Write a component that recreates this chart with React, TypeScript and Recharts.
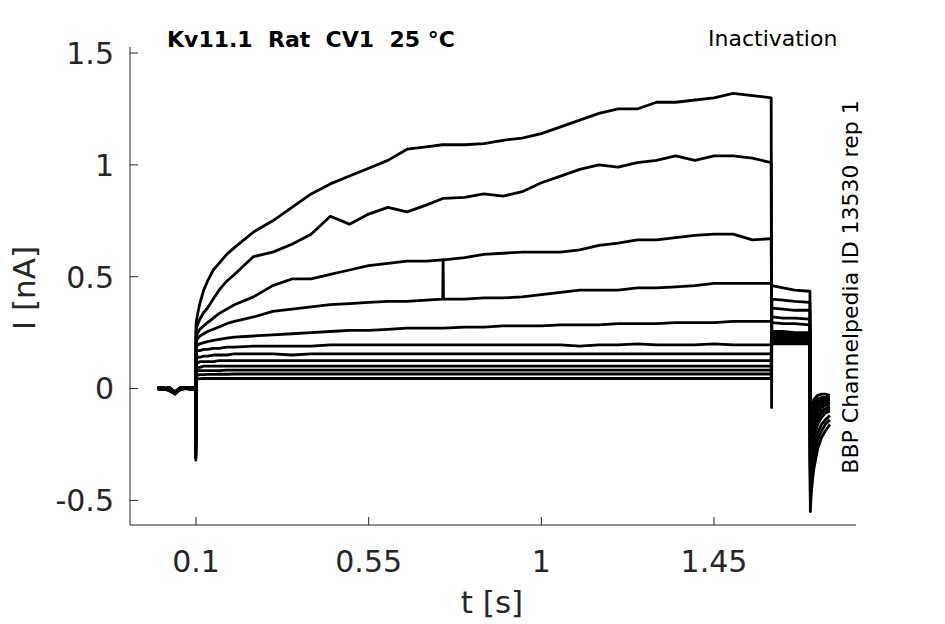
import { LineChart, Line, XAxis, YAxis } from "recharts";

// sweep time base (s), shared by all traces
const T = [
  0, 0.015, 0.03, 0.045, 0.06, 0.075, 0.09, 0.099,
  0.0995, 0.1, 0.101, 0.105, 0.11, 0.12, 0.13, 0.145, 0.16, 0.18, 0.2,
  0.25, 0.3, 0.35, 0.4, 0.45, 0.5, 0.55, 0.6, 0.65, 0.7,
  0.743, 0.744, 0.745, 0.8, 0.85, 0.9, 0.95, 1.0,
  1.05, 1.1, 1.15, 1.2, 1.25, 1.3, 1.35, 1.4, 1.45, 1.5, 1.55, 1.599,
  1.6, 1.601, 1.63, 1.66, 1.699,
  1.7, 1.701, 1.703, 1.706, 1.71, 1.72, 1.73, 1.74, 1.752,
];

// currents (nA), one array per sweep
const I1 = [
  0.005, 0, -0.01, -0.025, 0, 0.005, -0.005, 0,
  -0.22, 0.28, 0.3, 0.34, 0.38, 0.44, 0.48, 0.53, 0.56, 0.6, 0.63,
  0.7, 0.75, 0.81, 0.87, 0.915, 0.95, 0.985, 1.02, 1.07, 1.08,
  1.09, 1.09, 1.09, 1.09, 1.095, 1.11, 1.12, 1.14,
  1.17, 1.2, 1.23, 1.25, 1.25, 1.28, 1.28, 1.29, 1.3, 1.32, 1.31, 1.3,
  -0.085, 0.4, 0.395, 0.39, 0.385,
  0.385, -0.55, -0.48, -0.42, -0.36, -0.27, -0.22, -0.19, -0.16,
];
const I2 = [
  0, 0.005, -0.005, -0.02, 0.005, 0, 0, 0.005,
  -0.24, 0.25, 0.27, 0.29, 0.31, 0.34, 0.36, 0.4, 0.44, 0.48, 0.51,
  0.59, 0.61, 0.645, 0.69, 0.77, 0.735, 0.78, 0.81, 0.79, 0.82,
  0.85, 0.85, 0.85, 0.855, 0.87, 0.86, 0.88, 0.92,
  0.95, 0.98, 1.0, 0.99, 1.01, 1.02, 1.04, 1.02, 1.04, 1.04, 1.03, 1.01,
  0.37, 0.36, 0.355, 0.35, 0.35,
  0.35, -0.5, -0.44, -0.37, -0.31, -0.23, -0.19, -0.16, -0.14,
];
const I3 = [
  0, -0.005, 0.005, -0.015, -0.005, 0.005, 0.005, -0.005,
  -0.25, 0.22, 0.24, 0.25, 0.265, 0.28, 0.295, 0.315, 0.335, 0.355, 0.375,
  0.41, 0.46, 0.49, 0.49, 0.51, 0.53, 0.55, 0.56, 0.57, 0.57,
  0.575, 0.575, 0.575, 0.585, 0.6, 0.605, 0.61, 0.61,
  0.61, 0.62, 0.64, 0.65, 0.665, 0.665, 0.675, 0.685, 0.69, 0.69, 0.665, 0.67,
  0.33, 0.32, 0.315, 0.315, 0.31,
  0.31, -0.47, -0.4, -0.33, -0.26, -0.2, -0.16, -0.14, -0.12,
];
const I4 = [
  0.005, 0, -0.01, -0.02, 0, 0, -0.005, 0,
  -0.26, 0.2, 0.215, 0.225, 0.235, 0.245, 0.255, 0.265, 0.275, 0.29, 0.3,
  0.32, 0.345, 0.355, 0.365, 0.375, 0.38, 0.385, 0.39, 0.39, 0.395,
  0.4, 0.575, 0.4, 0.4, 0.405, 0.405, 0.41, 0.42,
  0.43, 0.44, 0.44, 0.44, 0.45, 0.45, 0.455, 0.46, 0.47, 0.47, 0.47, 0.47,
  0.465, 0.46, 0.45, 0.44, 0.435,
  0.435, -0.45, -0.37, -0.29, -0.22, -0.16, -0.13, -0.11, -0.1,
];
const I5 = [
  0, 0.005, -0.005, -0.015, 0.005, 0, 0, 0,
  -0.27, 0.18, 0.19, 0.195, 0.2, 0.205, 0.21, 0.215, 0.22, 0.225, 0.23,
  0.235, 0.24, 0.245, 0.25, 0.255, 0.26, 0.26, 0.265, 0.27, 0.27,
  0.27, 0.27, 0.27, 0.275, 0.275, 0.28, 0.28, 0.28,
  0.285, 0.285, 0.285, 0.29, 0.29, 0.29, 0.295, 0.295, 0.295, 0.3, 0.3, 0.3,
  0.3, 0.295, 0.29, 0.29, 0.285,
  0.285, -0.43, -0.33, -0.25, -0.19, -0.14, -0.11, -0.1, -0.09,
];
const I6 = [
  -0.005, 0, 0.005, -0.02, 0, 0.005, 0, -0.005,
  -0.28, 0.16, 0.165, 0.17, 0.17, 0.175, 0.175, 0.18, 0.18, 0.185, 0.185,
  0.19, 0.19, 0.19, 0.19, 0.195, 0.195, 0.195, 0.195, 0.195, 0.195,
  0.195, 0.195, 0.195, 0.195, 0.195, 0.195, 0.195, 0.195,
  0.195, 0.19, 0.195, 0.195, 0.2, 0.195, 0.195, 0.195, 0.2, 0.195, 0.195, 0.195,
  0.25, 0.255, 0.255, 0.25, 0.25,
  0.25, -0.41, -0.3, -0.22, -0.16, -0.12, -0.1, -0.09, -0.08,
];
const I7 = [
  0.005, -0.005, 0, -0.015, 0.005, 0, 0.005, 0,
  -0.29, 0.13, 0.135, 0.14, 0.14, 0.145, 0.145, 0.15, 0.15, 0.15, 0.155,
  0.155, 0.155, 0.15, 0.155, 0.155, 0.155, 0.155, 0.155, 0.155, 0.155,
  0.155, 0.155, 0.155, 0.155, 0.155, 0.155, 0.155, 0.155,
  0.155, 0.155, 0.155, 0.155, 0.155, 0.155, 0.155, 0.155, 0.155, 0.155, 0.155, 0.155,
  0.24, 0.245, 0.245, 0.24, 0.24,
  0.24, -0.39, -0.27, -0.19, -0.14, -0.1, -0.085, -0.075, -0.07,
];
const I8 = [
  0, 0, -0.005, -0.02, 0, 0.005, -0.005, 0.005,
  -0.3, 0.11, 0.115, 0.115, 0.12, 0.12, 0.12, 0.12, 0.125, 0.125, 0.125,
  0.125, 0.125, 0.125, 0.125, 0.125, 0.125, 0.125, 0.125, 0.125, 0.125,
  0.125, 0.125, 0.125, 0.125, 0.125, 0.125, 0.125, 0.125,
  0.125, 0.125, 0.125, 0.125, 0.125, 0.125, 0.125, 0.125, 0.125, 0.125, 0.125, 0.125,
  0.235, 0.235, 0.235, 0.23, 0.23,
  0.23, -0.37, -0.24, -0.17, -0.12, -0.085, -0.07, -0.065, -0.06,
];
const I9 = [
  0.005, 0, 0, -0.015, -0.005, 0, 0, 0,
  -0.3, 0.09, 0.095, 0.095, 0.095, 0.1, 0.1, 0.1, 0.1, 0.1, 0.1,
  0.1, 0.1, 0.1, 0.1, 0.1, 0.1, 0.1, 0.1, 0.1, 0.1,
  0.1, 0.1, 0.1, 0.1, 0.1, 0.1, 0.1, 0.1,
  0.1, 0.1, 0.1, 0.1, 0.1, 0.1, 0.1, 0.1, 0.1, 0.1, 0.1, 0.1,
  0.225, 0.225, 0.225, 0.225, 0.225,
  0.225, -0.36, -0.22, -0.15, -0.1, -0.07, -0.06, -0.055, -0.05,
];
const I10 = [
  0, 0.005, -0.005, -0.02, 0, 0, 0.005, 0,
  -0.31, 0.075, 0.078, 0.08, 0.08, 0.08, 0.08, 0.08, 0.08, 0.082, 0.082,
  0.082, 0.082, 0.082, 0.082, 0.082, 0.082, 0.082, 0.082, 0.082, 0.082,
  0.082, 0.082, 0.082, 0.082, 0.082, 0.082, 0.082, 0.082,
  0.082, 0.082, 0.082, 0.082, 0.082, 0.082, 0.082, 0.082, 0.082, 0.082, 0.082, 0.082,
  0.215, 0.215, 0.215, 0.215, 0.215,
  0.215, -0.35, -0.2, -0.13, -0.085, -0.06, -0.05, -0.045, -0.045,
];
const I11 = [
  -0.005, 0, 0.005, -0.015, 0, 0.005, 0, 0,
  -0.31, 0.055, 0.06, 0.06, 0.062, 0.062, 0.063, 0.063, 0.064, 0.064, 0.065,
  0.065, 0.065, 0.065, 0.065, 0.065, 0.065, 0.065, 0.065, 0.065, 0.065,
  0.065, 0.065, 0.065, 0.065, 0.065, 0.065, 0.065, 0.065,
  0.065, 0.065, 0.065, 0.065, 0.065, 0.065, 0.065, 0.065, 0.065, 0.065, 0.065, 0.065,
  0.21, 0.21, 0.21, 0.21, 0.21,
  0.21, -0.34, -0.18, -0.11, -0.07, -0.045, -0.04, -0.04, -0.04,
];
const I12 = [
  0, -0.005, 0, -0.025, 0, 0, -0.005, 0,
  -0.32, 0.04, 0.042, 0.043, 0.044, 0.045, 0.045, 0.045, 0.045, 0.045, 0.045,
  0.045, 0.045, 0.045, 0.045, 0.045, 0.045, 0.045, 0.045, 0.045, 0.045,
  0.045, 0.045, 0.045, 0.045, 0.045, 0.045, 0.045, 0.045,
  0.045, 0.045, 0.045, 0.045, 0.045, 0.045, 0.045, 0.045, 0.045, 0.045, 0.045, 0.045,
  0.2, 0.2, 0.2, 0.2, 0.2,
  0.2, -0.32, -0.15, -0.09, -0.05, -0.03, -0.025, -0.025, -0.03,
];

const SWEEPS = [I1, I2, I3, I4, I5, I6, I7, I8, I9, I10, I11, I12];

const X_TICKS = [0.1, 0.55, 1, 1.45];
const Y_TICKS = [-0.5, 0, 0.5, 1, 1.5];

const W = 945;
const H = 624;
const PLOT_LEFT = 130;
const PLOT_RIGHT = 856;
const PLOT_TOP = 47;
const PLOT_BOTTOM = 525;
const AXIS = "#262626";
const FONT = "DejaVu Sans";

const rows = T.map((t, i) => {
  const r: Record<string, number> = { t };
  SWEEPS.forEach((s, k) => {
    r["s" + k] = s[i];
  });
  return r;
});

function YTick(props: any) {
  const { y, payload } = props;
  return (
    <g>
      <line x1={PLOT_LEFT} x2={PLOT_LEFT + 8} y1={y} y2={y} stroke={AXIS} strokeWidth={1} />
      <text x={PLOT_LEFT - 16} y={y} dy="0.36em" textAnchor="end" fontSize={30} fontFamily={FONT} fill={AXIS}>
        {payload.value}
      </text>
    </g>
  );
}

function XTick(props: any) {
  const { x, payload } = props;
  return (
    <g>
      <line x1={x} x2={x} y1={PLOT_BOTTOM} y2={PLOT_BOTTOM - 8} stroke={AXIS} strokeWidth={1} />
      <text x={x} y={572} textAnchor="middle" fontSize={30} fontFamily={FONT} fill={AXIS}>
        {payload.value}
      </text>
    </g>
  );
}

export default function App() {
  return (
    <div style={{ position: "absolute", left: 0, top: 0, width: W, height: H, background: "#fff" }}>
      <LineChart
        width={W}
        height={H}
        data={rows}
        margin={{ top: PLOT_TOP, right: W - PLOT_RIGHT, left: 0, bottom: 0 }}
      >
        <XAxis
          dataKey="t"
          type="number"
          domain={[-0.072, 1.82]}
          ticks={X_TICKS}
          interval={0}
          height={H - PLOT_BOTTOM}
          axisLine={{ stroke: AXIS, strokeWidth: 1 }}
          tickLine={false}
          tick={<XTick />}
          allowDataOverflow
        />
        <YAxis
          type="number"
          domain={[-0.61, 1.527]}
          ticks={Y_TICKS}
          interval={0}
          width={PLOT_LEFT}
          axisLine={{ stroke: AXIS, strokeWidth: 1 }}
          tickLine={false}
          tick={<YTick />}
          allowDataOverflow
        />
        {SWEEPS.map((_, k) => (
          <Line
            key={k}
            dataKey={"s" + k}
            type="linear"
            stroke="#000"
            strokeWidth={2.8}
            strokeLinejoin="round"
            dot={false}
            activeDot={false}
            isAnimationActive={false}
          />
        ))}
      </LineChart>
      <svg
        width={W}
        height={H}
        style={{ position: "absolute", left: 0, top: 0, pointerEvents: "none" }}
      >
        <text x={167} y={47} fontSize={22} fontWeight="bold" fontFamily={FONT} fill="#000" style={{ whiteSpace: "pre" }}>
          {"Kv11.1  Rat  CV1  25 °C"}
        </text>
        <text x={708} y={46} fontSize={22} fontFamily={FONT} fill="#000">
          Inactivation
        </text>
        <text
          x={858}
          y={287}
          fontSize={22}
          fontFamily={FONT}
          fill="#000"
          textAnchor="middle"
          transform="rotate(-90 858 287)"
        >
          BBP Channelpedia ID 13530 rep 1
        </text>
        <text x={492} y={613} fontSize={31} fontFamily={FONT} fill={AXIS} textAnchor="middle">
          t [s]
        </text>
        <text
          x={35}
          y={288}
          fontSize={31}
          fontFamily={FONT}
          fill={AXIS}
          textAnchor="middle"
          transform="rotate(-90 35 288)"
        >
          I [nA]
        </text>
      </svg>
    </div>
  );
}
